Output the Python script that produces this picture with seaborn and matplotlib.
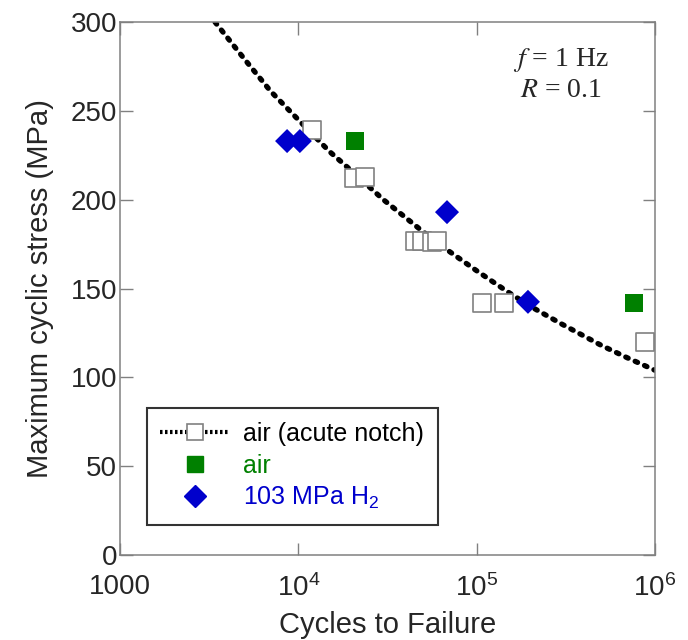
import numpy as np
import pandas as pd
import seaborn as sns
import matplotlib.pyplot as plt
from matplotlib.lines import Line2D

# air, acute notch (open squares)
notch_cycles = [1.19e4, 2.05e4, 2.37e4, 4.52e4, 4.94e4, 5.62e4, 6.0e4, 1.07e5, 1.43e5, 8.8e5]
notch_stress = [239, 212, 213, 177, 177, 176, 177, 142, 142, 120]

# air (green squares)
air_cycles = [2.08e4, 7.64e5]
air_stress = [233, 142]

# 103 MPa H2 (blue diamonds)
h2_cycles = [8.65e3, 1.02e4, 6.82e4, 1.94e5]
h2_stress = [233, 233, 193, 142.5]

# fit curve
fit_cycles = [3.41e3, 5e3, 7e3, 1e4, 1.5e4, 2e4, 3e4, 5e4, 7e4, 1e5, 1.5e5, 2e5, 3e5, 5e5, 7e5, 1e6]
fit_stress = [300, 279, 261, 245, 227, 216, 200, 182, 171, 160, 148, 140, 130, 118, 111, 104]

xticks = [1e3, 1e4, 1e5, 1e6]
xticklabels = ["1000", "$10^{4}$", "$10^{5}$", "$10^{6}$"]
yticks = [0, 50, 100, 150, 200, 250, 300]

sns.set_style("ticks")
plt.rcParams['font.family'] = ['Liberation Sans', 'DejaVu Sans']
plt.rcParams['mathtext.fontset'] = 'custom'
plt.rcParams['mathtext.rm'] = 'Liberation Sans'
plt.rcParams['mathtext.it'] = 'Liberation Sans:italic'

fig = plt.figure(figsize=(6.88, 6.4), dpi=100)
ax = fig.add_axes([0.1744, 0.1328, 0.7776, 0.8328])

fit_df = pd.DataFrame({"cycles": fit_cycles, "stress": fit_stress})
sns.lineplot(data=fit_df, x="cycles", y="stress", ax=ax, color="black",
             lw=3.8, zorder=2, sort=False)
ax.lines[-1].set_dashes((0.5, 1.45))
ax.lines[-1].set_dash_capstyle("round")

grey = "#808080"
ax.scatter(notch_cycles, notch_stress, marker="s", s=160, facecolor="white",
           edgecolor=grey, linewidth=1.2, zorder=3)
sns.scatterplot(x=air_cycles, y=air_stress, ax=ax, marker="s", s=160,
                color="#008000", edgecolor="none", zorder=4)
sns.scatterplot(x=h2_cycles, y=h2_stress, ax=ax, marker="D", s=150,
                color="#0000CC", edgecolor="none", zorder=4)

ax.set_xscale("log")
ax.set_xlim(1e3, 1e6)
ax.set_ylim(0, 300)
ax.set_xticks(xticks)
ax.set_xticklabels(xticklabels)
ax.set_yticks(yticks)
ax.minorticks_off()
ax.tick_params(direction="in", length=9, width=1, color=grey, labelsize=20,
               top=True, right=True, pad=2)
ax.tick_params(axis="x", pad=14)
for sp in ax.spines.values():
    sp.set_color(grey)
    sp.set_linewidth(1.1)

ax.set_xlabel("Cycles to Failure", fontsize=21, labelpad=6)
ax.set_ylabel("Maximum cyclic stress (MPa)", fontsize=21, labelpad=12)

ax.text(0.824, 0.955, "$\\it{f}$ = 1 Hz\n$\\it{R}$ = 0.1", transform=ax.transAxes,
        ha="center", va="top", fontsize=20, family="Liberation Serif",
        linespacing=1.2, math_fontfamily="stix", multialignment="center")

handles = [
    Line2D([], [], color="black", lw=3, dashes=(0.6, 0.6), marker="s", ms=12,
           mfc="white", mec=grey, mew=1.2),
    Line2D([], [], ls="none", marker="s", ms=12, color="#008000"),
    Line2D([], [], ls="none", marker="D", ms=11, color="#0000CC"),
]
labels = ["air (acute notch)", "air", "103 MPa H$_2$"]
leg = ax.legend(handles, labels, loc="lower left", bbox_to_anchor=(0.05, 0.056),
                borderaxespad=0, fontsize=18, frameon=True, fancybox=False,
                handlelength=2.8, handletextpad=0.5, labelspacing=0.3,
                borderpad=0.55)
leg.get_frame().set_edgecolor("black")
leg.get_frame().set_linewidth(1.5)
for t, c in zip(leg.get_texts(), ["black", "#008000", "#0000CC"]):
    t.set_color(c)

fig.savefig("out.png", dpi=100)
